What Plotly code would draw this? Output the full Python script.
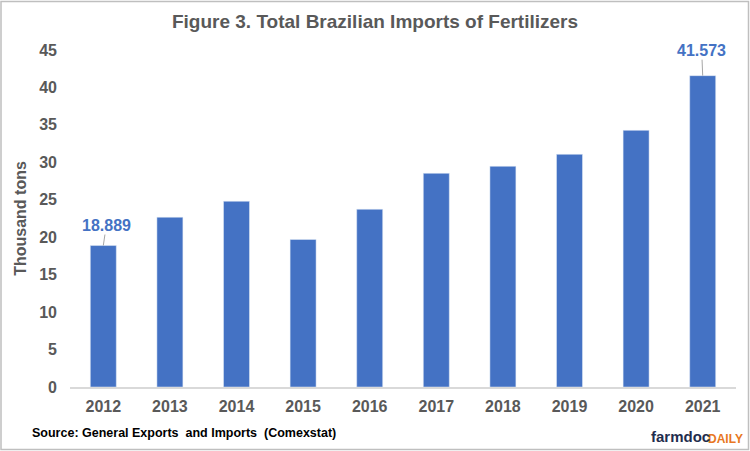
import plotly.graph_objects as go

years = ["2012", "2013", "2014", "2015", "2016", "2017", "2018", "2019", "2020", "2021"]
imports = [18.889, 22.67, 24.8, 19.7, 23.73, 28.53, 29.47, 31.07, 34.27, 41.573]
label_years = ["2012", "2021"]
label_texts = ["18.889", "41.573"]

FONT = "Liberation Sans, Arial, sans-serif"
GRAY = "#595959"
BLUE = "#4472C4"

W, H = 750, 451
L, R, T, B = 70, 14, 49.5, 64
PW, PH = W - L - R, H - T - B

fig = go.Figure()
fig.add_trace(go.Bar(x=years, y=imports, marker_color=BLUE, width=0.39, hoverinfo="x+y"))

offsets = {"2012": (3, -20), "2021": (-1, -25)}
for yr, txt in zip(label_years, label_texts):
    i = years.index(yr)
    v = imports[i]
    ax, ay = offsets[yr]
    fig.add_annotation(x=i, y=v, text="<b>%s</b>" % txt, showarrow=True, arrowhead=0,
                       arrowwidth=1, arrowcolor="#A6A6A6", ax=ax, ay=ay,
                       font=dict(family=FONT, size=16, color=BLUE), standoff=0, borderpad=0)

fig.update_layout(
    width=W, height=H,
    margin=dict(l=L, r=R, t=T, b=B),
    paper_bgcolor="white", plot_bgcolor="white",
    showlegend=False,
    title=dict(text="<b>Figure 3. Total Brazilian Imports of Fertilizers</b>", x=0.5, xanchor="center",
               y=1 - 21 / H, yanchor="middle", font=dict(family=FONT, size=19, color=GRAY)),
    xaxis=dict(type="category", range=[-0.5, len(years) - 0.5], showline=True, linecolor="#D9D9D9",
               linewidth=1.5, ticks="",
               tickfont=dict(family=FONT, size=16, color=GRAY, weight="bold"), showgrid=False,
               ticklabelstandoff=4),
    yaxis=dict(range=[0, 45], dtick=5, showgrid=False, zeroline=False, showline=False, ticks="",
               tickfont=dict(family=FONT, size=16, color=GRAY, weight="bold"), ticklabelstandoff=12,
               title=dict(text="<b>Thousand tons</b>", font=dict(family=FONT, size=16, color=GRAY), standoff=8)),
    font=dict(family=FONT),
)

fig.add_shape(type="rect", xref="paper", yref="paper",
              x0=-(L - 1) / PW, x1=1 + (R - 1.5) / PW,
              y0=-(B - 1.5) / PH, y1=1 + (T - 1) / PH,
              line=dict(color="#BFBFBF", width=1.5), layer="below")

fig.add_annotation(xref="paper", yref="paper", x=-(L - 30) / PW, y=-(433 - (T + PH)) / PH,
                   xanchor="left", yanchor="middle",
                   text="<b>Source: General Exports  and Imports  (Comexstat)</b>", showarrow=False,
                   font=dict(family=FONT, size=12.5, color="black"))
fig.add_annotation(xref="paper", yref="paper", x=(744 - L) / PW, y=-(439 - (T + PH)) / PH,
                   xanchor="right", yanchor="middle", text="<b>DAILY</b>", showarrow=False,
                   borderpad=0, font=dict(family=FONT, size=12, color="#E87722"))
fig.add_annotation(xref="paper", yref="paper", x=(711 - L) / PW, y=-(437 - (T + PH)) / PH,
                   xanchor="right", yanchor="middle", text="<b>farmdoc</b>", showarrow=False,
                   borderpad=0, font=dict(family=FONT, size=15, color="#1F2D4E"))

fig.write_html("out.html", config={"displayModeBar": False},
               post_script="document.body.style.margin='0';")
